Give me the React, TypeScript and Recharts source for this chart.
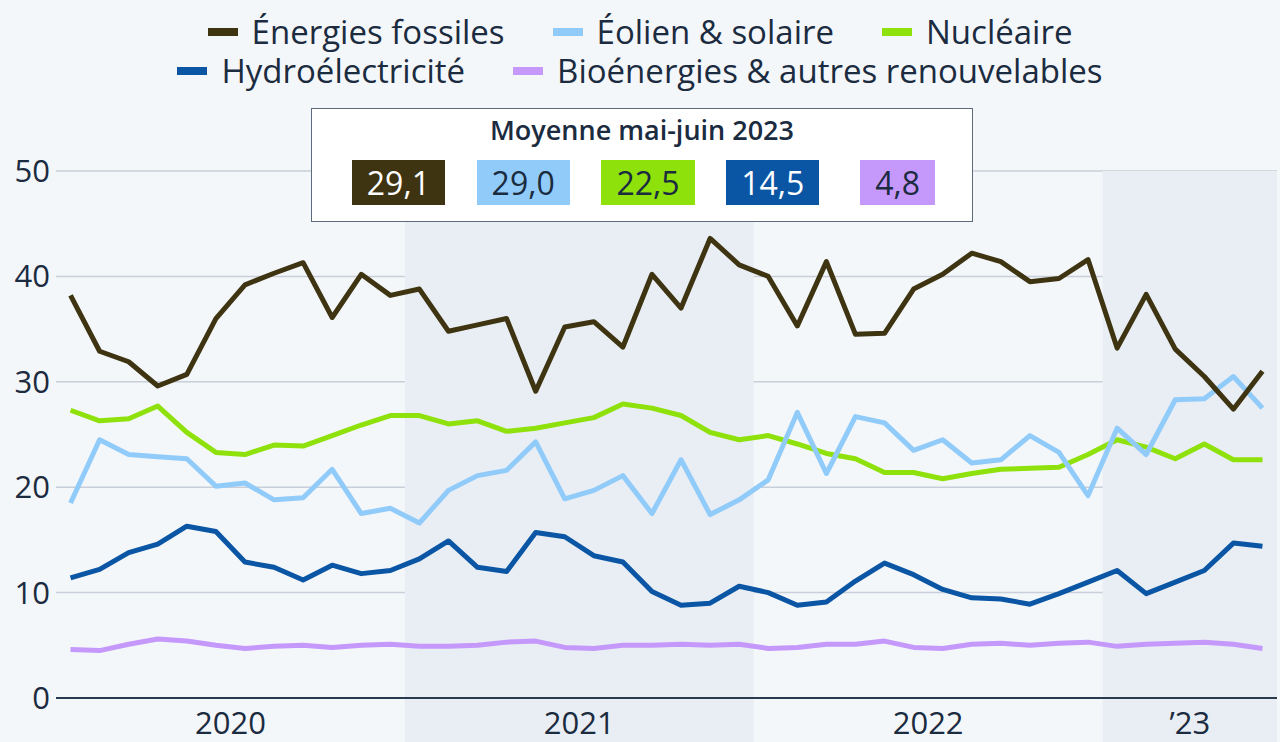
import { LineChart, Line, XAxis, YAxis, CartesianGrid, ReferenceArea, Legend } from 'recharts';

// monthly share of electricity generation, Jan 2020 – Jun 2023 (%)
const months = [
  '2020-01', '2020-02', '2020-03', '2020-04', '2020-05', '2020-06', '2020-07', '2020-08', '2020-09', '2020-10', '2020-11', '2020-12',
  '2021-01', '2021-02', '2021-03', '2021-04', '2021-05', '2021-06', '2021-07', '2021-08', '2021-09', '2021-10', '2021-11', '2021-12',
  '2022-01', '2022-02', '2022-03', '2022-04', '2022-05', '2022-06', '2022-07', '2022-08', '2022-09', '2022-10', '2022-11', '2022-12',
  '2023-01', '2023-02', '2023-03', '2023-04', '2023-05', '2023-06',
];

const fossil = [
  38.2, 32.9, 31.9, 29.6, 30.7, 36.0, 39.2, 40.3, 41.3, 36.1, 40.2, 38.2,
  38.8, 34.8, 35.4, 36.0, 29.1, 35.2, 35.7, 33.3, 40.2, 37.0, 43.6, 41.1,
  40.0, 35.3, 41.4, 34.5, 34.6, 38.8, 40.2, 42.2, 41.4, 39.5, 39.8, 41.6,
  33.2, 38.3, 33.1, 30.5, 27.4, 31.0,
];
const windSolar = [
  18.5, 24.5, 23.1, 22.9, 22.7, 20.1, 20.4, 18.8, 19.0, 21.7, 17.5, 18.0,
  16.6, 19.7, 21.1, 21.6, 24.3, 18.9, 19.7, 21.1, 17.5, 22.6, 17.4, 18.8,
  20.7, 27.1, 21.3, 26.7, 26.1, 23.5, 24.5, 22.3, 22.6, 24.9, 23.3, 19.2,
  25.6, 23.1, 28.3, 28.4, 30.5, 27.5,
];
const nuclear = [
  27.3, 26.3, 26.5, 27.7, 25.2, 23.3, 23.1, 24.0, 23.9, 24.9, 25.9, 26.8,
  26.8, 26.0, 26.3, 25.3, 25.6, 26.1, 26.6, 27.9, 27.5, 26.8, 25.2, 24.5,
  24.9, 24.1, 23.2, 22.7, 21.4, 21.4, 20.8, 21.3, 21.7, 21.8, 21.9, 23.1,
  24.5, 23.8, 22.7, 24.1, 22.6, 22.6,
];
const hydro = [
  11.4, 12.2, 13.8, 14.6, 16.3, 15.8, 12.9, 12.4, 11.2, 12.6, 11.8, 12.1,
  13.2, 14.9, 12.4, 12.0, 15.7, 15.3, 13.5, 12.9, 10.1, 8.8, 9.0, 10.6,
  10.0, 8.8, 9.1, 11.1, 12.8, 11.7, 10.3, 9.5, 9.4, 8.9, 9.9, 11.0,
  12.1, 9.9, 11.0, 12.1, 14.7, 14.4,
];
const bio = [
  4.6, 4.5, 5.1, 5.6, 5.4, 5.0, 4.7, 4.9, 5.0, 4.8, 5.0, 5.1,
  4.9, 4.9, 5.0, 5.3, 5.4, 4.8, 4.7, 5.0, 5.0, 5.1, 5.0, 5.1,
  4.7, 4.8, 5.1, 5.1, 5.4, 4.8, 4.7, 5.1, 5.2, 5.0, 5.2, 5.3,
  4.9, 5.1, 5.2, 5.3, 5.1, 4.7,
];

const seriesKeys = ['fossil', 'windSolar', 'nuclear', 'hydro', 'bio'];
const seriesNames = [
  'Énergies fossiles',
  'Éolien & solaire',
  'Nucléaire',
  'Hydroélectricité',
  'Bioénergies & autres renouvelables',
];
const seriesColors = ['#3e3412', '#91cbfa', '#8ee10a', '#0a56a5', '#c598fb'];

const averageTitle = 'Moyenne mai-juin 2023';
const averages = ['29,1', '29,0', '22,5', '14,5', '4,8'];
const averageTextColors = ['#ffffff', '#1b2b40', '#1b2b40', '#ffffff', '#1b2b40'];

const yTicks = [0, 10, 20, 30, 40, 50];
const yearTickMonths = ['2020-06', '2021-06', '2022-06', '2023-03'];
const yearTickLabels = ['2020', '2021', '2022', '’23'];
const shadedFrom = ['2021-01', '2023-01'];
const shadedTo = ['2021-12', '2023-06'];

const data = months.map((month, i) => ({
  month,
  fossil: fossil[i],
  windSolar: windSolar[i],
  nuclear: nuclear[i],
  hydro: hydro[i],
  bio: bio[i],
}));

const W = 1280;
const H = 742;
const PLOT_LEFT = 56;
const PLOT_RIGHT = 3;
const HALF_BAND = (W - PLOT_LEFT - PLOT_RIGHT) / months.length / 2;
const TEXT = '#1b2b40';
const FONT = '"Open Sans", "Noto Sans", sans-serif';

function YearTick({ x, y, payload }: any) {
  const k = yearTickMonths.indexOf(payload.value);
  if (k < 0) return null;
  return (
    <text x={x + HALF_BAND} y={y} dy={36} textAnchor="middle" fill={TEXT} fontSize={31} fontFamily={FONT}>
      {yearTickLabels[k]}
    </text>
  );
}

function LegendContent() {
  const rows = [[0, 1, 2], [3, 4]];
  return (
    <div style={{ paddingTop: 12, fontFamily: FONT }}>
      {rows.map((row, r) => (
        <div key={r} style={{ display: 'flex', justifyContent: 'center', gap: 48, height: 39, alignItems: 'center' }}>
          {row.map((i) => (
            <div key={i} style={{ display: 'flex', alignItems: 'center', gap: 14 }}>
              <span style={{ width: 30, height: 8, background: seriesColors[i], display: 'inline-block' }} />
              <span style={{ fontSize: 33, color: TEXT, lineHeight: '39px' }}>{seriesNames[i]}</span>
            </div>
          ))}
        </div>
      ))}
    </div>
  );
}

function AverageBox() {
  return (
    <div
      style={{
        position: 'absolute',
        left: 311,
        top: 108,
        width: 662,
        height: 114,
        boxSizing: 'border-box',
        background: '#ffffff',
        border: '1.5px solid #5d6b7c',
        fontFamily: FONT,
        color: TEXT,
      }}
    >
      <div style={{ textAlign: 'center', fontSize: 27, fontWeight: 600, lineHeight: '30px', marginTop: 6 }}>
        {averageTitle}
      </div>
      <div style={{ display: 'flex', justifyContent: 'space-around', padding: '0 12px 0 24px', marginTop: 15 }}>
        {averages.map((v, i) => (
          <div key={i} style={{ width: 125, display: 'flex', justifyContent: 'center' }}>
            <span
              style={{
                background: seriesColors[i],
                color: averageTextColors[i],
                fontSize: 32,
                lineHeight: '45px',
                height: 45,
                padding: '0 15px',
              }}
            >
              {v}
            </span>
          </div>
        ))}
      </div>
    </div>
  );
}

export default function App() {
  const drawOrder = [4, 3, 2, 1, 0];
  return (
    <div style={{ position: 'absolute', left: 0, top: 0, width: W, height: H, background: '#f4f7fa', overflow: 'hidden' }}>
      <LineChart width={W} height={H} data={data} margin={{ top: 171, right: PLOT_RIGHT, left: 0, bottom: 0 }}>
        {shadedFrom.map((from, i) => (
          <ReferenceArea
            key={from}
            x1={from}
            x2={shadedTo[i]}
            y1={-4.3}
            y2={50}
            ifOverflow="visible"
            fill="#e9eef4"
            fillOpacity={1}
            stroke="none"
          />
        ))}
        <CartesianGrid vertical={false} stroke="#c8cfd8" strokeWidth={1.5} />
        <XAxis
          dataKey="month"
          scale="band"
          interval={0}
          height={44}
          tickSize={0}
          tickMargin={0}
          tickLine={false}
          axisLine={{ stroke: '#2a3a4e', strokeWidth: 2 }}
          tick={<YearTick />}
        />
        <YAxis
          domain={[0, 50]}
          ticks={yTicks}
          width={PLOT_LEFT}
          axisLine={false}
          tickLine={false}
          tickSize={0}
          tickMargin={6}
          tick={{ fill: TEXT, fontSize: 31, fontFamily: FONT }}
        />
        <Legend
          layout="horizontal"
          verticalAlign="middle"
          align="center"
          wrapperStyle={{ top: 0, left: 0, width: W }}
          content={() => <LegendContent />}
        />
        {drawOrder.map((i) => (
          <Line
            key={seriesKeys[i]}
            type="linear"
            dataKey={seriesKeys[i]}
            name={seriesNames[i]}
            stroke={seriesColors[i]}
            strokeWidth={5}
            strokeLinejoin="round"
            dot={false}
            activeDot={false}
            isAnimationActive={false}
          />
        ))}
      </LineChart>
      <AverageBox />
    </div>
  );
}
